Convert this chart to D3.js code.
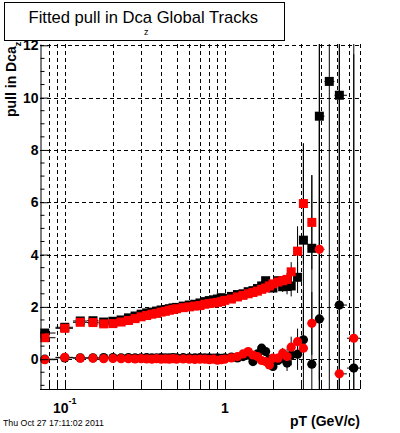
<!DOCTYPE html>
<html>
<head>
<meta charset="utf-8">
<script src="https://cdn.jsdelivr.net/npm/d3@7"></script>
<style>
  body { margin: 0; background: #fff; }
  text { font-family: "Liberation Sans", Arial, Helvetica, sans-serif; }
</style>
</head>
<body>
<svg id="chart" width="400" height="433"></svg>
<script>
// pT bin centres (GeV/c)
const pt = [0.075, 0.1, 0.125, 0.15, 0.175, 0.2, 0.225, 0.25, 0.275, 0.3,
            0.325, 0.35, 0.375, 0.4, 0.425, 0.45, 0.475, 0.5, 0.55, 0.6,
            0.65, 0.7, 0.75, 0.8, 0.85, 0.9, 0.95, 1.0, 1.1, 1.2,
            1.3, 1.4, 1.5, 1.6, 1.7, 1.8, 1.9, 2.0, 2.15, 2.3,
            2.45, 2.6, 2.85, 3.1, 3.5, 3.9, 4.5, 5.2, 6.4];

// width of the fitted pull (squares)
const widthBlack = [1.0, 1.22, 1.46, 1.47, 1.42, 1.45, 1.5, 1.58, 1.65, 1.72,
                    1.77, 1.8, 1.84, 1.88, 1.9, 1.93, 1.96, 1.98, 2.03, 2.07,
                    2.1, 2.15, 2.2, 2.24, 2.27, 2.3, 2.35, 2.32, 2.4, 2.47,
                    2.5, 2.58, 2.62, 2.7, 2.8, 3.0, 2.78, 2.72, 3.0, 2.77,
                    2.78, 2.8, 3.13, 4.55, 4.24, 9.29, 10.62, 10.09, null];
const widthBlackErr = [0.03, 0.03, 0.03, 0.03, 0.03, 0.03, 0.03, 0.03, 0.03, 0.03,
                       0.03, 0.03, 0.03, 0.03, 0.03, 0.03, 0.03, 0.03, 0.03, 0.03,
                       0.03, 0.03, 0.03, 0.03, 0.03, 0.03, 0.03, 0.04, 0.04, 0.05,
                       0.05, 0.06, 0.07, 0.08, 0.09, 0.1, 0.11, 0.12, 0.15, 0.2,
                       0.3, 0.4, 0.6, 3.7, 2.8, 12, 12, 12, 0];
const widthRed = [0.82, 1.18, 1.41, 1.4, 1.35, 1.36, 1.42, 1.48, 1.55, 1.62,
                  1.67, 1.72, 1.75, 1.8, 1.83, 1.87, 1.9, 1.93, 1.97, 2.0,
                  2.03, 2.05, 2.1, 2.13, 2.15, 2.17, 2.2, 2.25, 2.3, 2.38,
                  2.44, 2.5, 2.55, 2.6, 2.67, 2.72, 2.8, 2.88, 2.95, 3.0,
                  3.05, 3.34, 4.13, 5.95, 5.23, null, null, null, null];
const widthRedErr = [0.03, 0.03, 0.03, 0.03, 0.03, 0.03, 0.03, 0.03, 0.03, 0.03,
                     0.03, 0.03, 0.03, 0.03, 0.03, 0.03, 0.03, 0.03, 0.03, 0.03,
                     0.03, 0.03, 0.03, 0.03, 0.03, 0.03, 0.03, 0.04, 0.04, 0.05,
                     0.05, 0.06, 0.07, 0.08, 0.09, 0.1, 0.1, 0.11, 0.12, 0.18,
                     0.25, 0.37, 0.95, 2.3, 1.8, 0, 0, 0, 0];

// mean of the fitted pull (circles)
const meanBlack = [0.0, 0.05, 0.05, 0.05, 0.06, 0.06, 0.05, 0.06, 0.05, 0.05,
                   0.06, 0.05, 0.05, 0.06, 0.05, 0.05, 0.06, 0.05, 0.06, 0.05,
                   0.05, 0.06, 0.05, 0.05, 0.04, 0.05, 0.03, 0.05, 0.08, 0.05,
                   0.1, 0.15, -0.09, 0.2, 0.42, 0.29, 0.0, -0.28, -0.05, 0.05,
                   -0.15, 0.16, 0.19, 0.74, -0.19, 1.54, null, 2.07, -0.34];
const meanBlackErr = [0.02, 0.02, 0.02, 0.02, 0.02, 0.02, 0.02, 0.02, 0.02, 0.02,
                      0.02, 0.02, 0.02, 0.02, 0.02, 0.02, 0.02, 0.02, 0.02, 0.02,
                      0.02, 0.02, 0.02, 0.02, 0.02, 0.02, 0.02, 0.03, 0.03, 0.04,
                      0.05, 0.06, 0.07, 0.08, 0.09, 0.1, 0.11, 0.15, 0.15, 0.2,
                      0.3, 0.4, 0.6, 1.9, 1.6, 12, 0, 12, 12];
const meanRed = [-0.02, 0.07, 0.04, 0.04, 0.02, 0.03, 0.02, 0.02, 0.01, 0.02,
                 0.01, 0.0, 0.02, 0.0, 0.01, 0.0, 0.02, 0.0, 0.01, 0.0,
                 -0.01, 0.0, 0.0, -0.02, 0.0, -0.04, -0.02, 0.0, 0.05, 0.1,
                 0.2, 0.29, 0.16, 0.1, -0.05, -0.09, -0.22, 0.04, 0.04, 0.23,
                 0.1, 0.46, 0.67, 0.42, 1.37, 4.2, null, -0.56, 0.8];
const meanRedErr = [0.02, 0.02, 0.02, 0.02, 0.02, 0.02, 0.02, 0.02, 0.02, 0.02,
                    0.02, 0.02, 0.02, 0.02, 0.02, 0.02, 0.02, 0.02, 0.02, 0.02,
                    0.02, 0.02, 0.02, 0.02, 0.02, 0.02, 0.02, 0.03, 0.03, 0.04,
                    0.05, 0.06, 0.07, 0.08, 0.09, 0.1, 0.1, 0.12, 0.15, 0.2,
                    0.3, 0.4, 0.5, 0.8, 1.2, 5, 0, 12, 12];

// axis ticks
const yMajor = [0, 2, 4, 6, 8, 10, 12];
const xMajor = [0.1, 1];
const xMinor = [0.08, 0.09, 0.2, 0.3, 0.4, 0.5, 0.6, 0.7, 0.8, 0.9, 2, 3, 4, 5, 6, 7];

const svg = d3.select("#chart");
const pLeft = 40, pRight = 360, pTop = 44, pBottom = 389;

const x = d3.scaleLog().domain([0.07, 7]).range([pLeft, pRight]);
const y = d3.scaleLinear().domain([-1.14, 12.05]).range([pBottom, pTop]);

// title box
svg.append("rect")
   .attr("x", 4.5).attr("y", 2.5)
   .attr("width", 280).attr("height", 38)
   .attr("fill", "#fff").attr("stroke", "#000");
svg.append("text")
   .attr("x", 28.5).attr("y", 22.5)
   .style("font-size", "16.6px")
   .text("Fitted pull in Dca Global Tracks");
svg.append("text")
   .attr("x", 144).attr("y", 34.5)
   .style("font-size", "9px")
   .text("z");

// grid
const grid = svg.append("g")
   .attr("stroke", "#000").attr("stroke-width", 1)
   .attr("stroke-dasharray", "4,3");
xMajor.concat(xMinor).forEach(v => {
    grid.append("line")
        .attr("x1", Math.round(x(v)) + 0.5).attr("x2", Math.round(x(v)) + 0.5)
        .attr("y1", pTop).attr("y2", pBottom);
});
yMajor.forEach(v => {
    grid.append("line")
        .attr("x1", pLeft).attr("x2", pRight)
        .attr("y1", Math.round(y(v)) + 0.5).attr("y2", Math.round(y(v)) + 0.5);
});

// data
svg.append("clipPath").attr("id", "clip")
   .append("rect").attr("x", pLeft).attr("y", pTop)
   .attr("width", pRight - pLeft).attr("height", pBottom - pTop);
const plot = svg.append("g").attr("clip-path", "url(#clip)");

const lo = pt.map((d, i) => i === 0 ? d - (pt[1] - d) / 2 : (pt[i - 1] + d) / 2);
const hi = pt.map((d, i) => i === pt.length - 1 ? d + (d - pt[i - 1]) / 2 : (pt[i + 1] + d) / 2);

function drawSeries(values, errs, color, shape) {
    const g = plot.append("g");
    values.forEach((v, i) => {
        if (v === null) return;
        const cx = x(pt[i]), cy = y(v);
        g.append("line")
         .attr("x1", x(lo[i])).attr("x2", x(hi[i]))
         .attr("y1", cy).attr("y2", cy)
         .attr("stroke", "#000");
        if (errs[i] > 0) {
            g.append("line")
             .attr("x1", cx).attr("x2", cx)
             .attr("y1", y(v - errs[i])).attr("y2", y(v + errs[i]))
             .attr("stroke", "#000");
        }
    });
    values.forEach((v, i) => {
        if (v === null) return;
        const cx = x(pt[i]), cy = y(v);
        if (shape === "square") {
            g.append("rect")
             .attr("x", cx - 4.5).attr("y", cy - 4.5)
             .attr("width", 9).attr("height", 9)
             .attr("fill", color);
        } else {
            g.append("circle")
             .attr("cx", cx).attr("cy", cy).attr("r", 4.6)
             .attr("fill", color);
        }
    });
}

drawSeries(widthBlack, widthBlackErr, "#000", "square");
drawSeries(widthRed, widthRedErr, "#ff0000", "square");
drawSeries(meanBlack, meanBlackErr, "#000", "circle");
drawSeries(meanRed, meanRedErr, "#ff0000", "circle");

// y axis
const yAxis = svg.append("g")
   .attr("transform", `translate(${pLeft + 0.5},0)`)
   .call(d3.axisLeft(y).tickValues(yMajor).tickSize(-8).tickSizeOuter(0).tickPadding(2));
yAxis.select(".domain").attr("stroke", "#000");
yAxis.selectAll("text")
   .style("font-family", "'Liberation Sans', Arial, sans-serif")
   .style("font-size", "14px").style("font-weight", "bold").attr("fill", "#000");
yAxis.selectAll(".minor")
   .data(d3.range(-1, 12, 0.5).filter(v => v % 2 !== 0))
   .enter().append("line")
   .attr("x1", 0).attr("x2", 4)
   .attr("y1", d => y(d)).attr("y2", d => y(d))
   .attr("stroke", "#000");

// x axis
const xAxis = svg.append("g");
xAxis.append("line")
   .attr("x1", pLeft).attr("x2", pRight)
   .attr("y1", pBottom + 0.5).attr("y2", pBottom + 0.5)
   .attr("stroke", "#000");
xMajor.forEach(v => {
    xAxis.append("line")
       .attr("x1", Math.round(x(v)) + 0.5).attr("x2", Math.round(x(v)) + 0.5)
       .attr("y1", pBottom).attr("y2", pBottom - 9).attr("stroke", "#000");
});
xMinor.forEach(v => {
    xAxis.append("line")
       .attr("x1", Math.round(x(v)) + 0.5).attr("x2", Math.round(x(v)) + 0.5)
       .attr("y1", pBottom).attr("y2", pBottom - 6).attr("stroke", "#000");
});
const lab1 = xAxis.append("text")
   .attr("x", x(0.1)).attr("y", 413)
   .attr("text-anchor", "middle")
   .style("font-size", "14px").style("font-weight", "bold");
lab1.append("tspan").text("10");
lab1.append("tspan").attr("dy", -9).style("font-size", "9px").text("-1");
xAxis.append("text")
   .attr("x", x(1)).attr("y", 413)
   .attr("text-anchor", "middle")
   .style("font-size", "14px").style("font-weight", "bold")
   .text("1");

// axis titles
svg.append("text")
   .attr("x", 360).attr("y", 426)
   .attr("text-anchor", "end")
   .style("font-size", "14px").style("font-weight", "bold")
   .text("pT (GeV/c)");
const yt = svg.append("text")
   .attr("transform", "translate(16,117) rotate(-90)")
   .style("font-size", "14px").style("font-weight", "bold");
yt.append("tspan").text("pull in Dca");
yt.append("tspan").attr("dy", 5).style("font-size", "9px").text("z");

// date stamp
svg.append("text")
   .attr("x", 3).attr("y", 426)
   .style("font-size", "8.8px")
   .text("Thu Oct 27 17:11:02 2011");
</script>
</body>
</html>
